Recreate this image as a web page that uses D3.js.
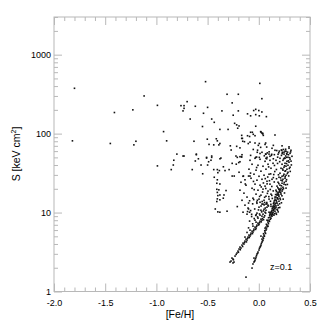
<!DOCTYPE html>
<html>
<head>
<meta charset="UTF-8" />
<title>S vs [Fe/H]</title>
<script src="https://d3js.org/d3.v7.min.js"></script>
<style>
  body { margin: 0; background: #fff; }
  svg { display: block; font-family: "Liberation Sans", Arial, sans-serif; }
  .axis line { stroke: #b8b8b8; }
  .axis text { fill: #000; font-size: 9px; }
</style>
</head>
<body>
<svg id="chart" width="327" height="327"></svg>
<script>
// tick labels
const xMajor = [-2, -1.5, -1, -0.5, 0, 0.5];
const xMajorLabels = ["-2.0", "-1.5", "-1.0", "-0.5", "0.0", "0.5"];
const yMajor = [1, 10, 100, 1000];
const yMajorLabels = ["1", "10", "100", "1000"];

// [Fe/H], S [keV cm^2]
const metalPoor = [
  [-1.80,375],[-1.82,81],[-1.41,185],[-1.45,75],[-1.23,200],[-1.22,72],[-1.20,80],[-1.12,300],
  [-0.99,228],[-0.99,39],[-0.93,106],[-0.90,81],[-0.83,46],[-0.835,40],[-0.855,35],[-0.80,55],[-0.74,52],
  [-0.52,455],[0.01,433],[-0.31,315],[-0.20,315],[0.03,277],[-0.26,245],[-0.70,254],[-0.76,226],
  [-0.73,226],[-0.73,209],[-0.74,194],[-0.62,222],[-0.50,215],[-0.36,194],[-0.20,194],[-0.54,181],
  [-0.25,171],[-0.11,178],[-0.03,203],[-0.05,196],[0.0,196],[0.03,188],[-0.08,168],[-0.03,174],
  [0.005,168],[0.074,164],[-0.67,153],[-0.46,153],[-0.435,139],[-0.55,123],[-0.236,135],[-0.216,129],
  [-0.193,125],[-0.206,117],[-0.38,113],[-0.30,113],[-0.03,124],[0.018,106],[0.038,101],[0.158,96],
  [-0.633,80],[-0.503,85],[-0.415,86],[-0.405,81],[-0.167,87],[-0.14,79],[-0.11,94],[-0.09,92],
  [-0.037,94],[-0.086,78],[0.005,75],[0.067,76],[0.018,67],[-0.486,73],[-0.44,72],[-0.39,72],
  [-0.38,75],[-0.278,70],[-0.216,69],[-0.184,66],[-0.27,62],[-0.054,63],[-0.015,58],[0.07,55],
  [0.083,57],[0.10,55],[0.175,61],[0.20,60],[0.22,62],[0.23,58],[0.246,55],[0.295,68],[0.227,70],
  [0.29,54],[0.25,49],[0.27,50],[-0.73,52],[-0.61,55],[-0.51,50],[-0.46,50],[-0.37,49],[-0.223,52],
  [-0.17,51],[-0.08,53],[-0.03,50],[0.005,50],[0.066,55],[0.08,50],[0.123,53],[-0.08,104],
  [-0.063,104],[0.021,105],[0.038,99],[-0.16,87]
];

const intermediate = [
  [-0.61,54],[-0.59,48],[-0.62,45],[-0.51,49],[-0.46,52],[-0.49,44],[-0.50,40],[-0.467,46],
  [-0.379,48],[-0.564,40],[-0.65,35],[-0.548,31],[-0.346,38],[-0.29,35],[-0.26,42],[-0.22,41],
  [-0.196,43],[-0.184,44],[-0.21,50],[-0.184,51],[-0.164,54],[-0.44,35],[-0.405,35],[-0.40,32],
  [-0.385,34],[-0.33,34],[-0.26,29],[-0.24,29],[-0.15,29],[-0.10,29],[-0.086,29],[-0.435,28],
  [-0.405,26],[-0.41,23.5],[-0.38,23],[-0.41,19.7],[-0.39,19.4],[-0.405,18],[-0.40,16.4],
  [-0.38,16.7],[-0.405,14.9],[-0.38,14.5],[-0.41,13.8],[-0.32,19],[-0.34,16.7],[-0.347,15.2],
  [-0.425,11.1],[-0.40,10.2],[-0.38,10.1],[-0.31,10.4],[-0.21,11.9],[-0.135,26],[-0.132,23],
  [-0.10,11.1],[-0.09,10.1],
  [-0.193,32.4],[-0.154,28.8],[-0.174,24.2],[-0.125,22.2],[-0.184,19.2],[-0.145,17.6],[-0.115,15.7],
  [-0.164,14.3],[-0.135,12.4],[-0.105,11.4],[-0.154,10.1],[-0.115,9.54],
  [-0.10,13.2],[-0.08,10.6],[-0.06,12.9],[-0.04,11.1],[-0.09,14.1],[-0.07,9.5],[-0.02,13.6],
  [-0.05,14.6],[-0.11,10.3],[-0.03,9.2]
];

const lowerSequence = [
  [-0.271,2.43],[-0.252,2.58],[-0.242,2.36],[-0.262,2.65],[-0.232,2.81],[-0.213,3.07],[-0.203,3.25],
  [-0.193,3.45],[-0.184,3.65],[-0.174,3.55],[-0.164,3.87],[-0.154,4.10],[-0.145,3.99],[-0.135,4.35],
  [-0.125,4.61],[-0.115,4.48],[-0.105,4.89],[-0.096,5.18],[-0.086,5.03],[-0.076,5.49],[-0.066,5.82],
  [-0.057,5.65],[-0.047,6.17],[-0.037,6.54],[-0.027,6.35],[-0.018,6.93],[-0.008,7.34],[0.002,7.13],
  [0.012,7.78],[0.021,8.25],[0.031,8.01],[0.031,9.00],[0.041,9.54],[0.051,8.74],[0.061,10.1],
  [0.070,10.7],[0.051,11.0],[0.080,11.7],[0.090,12.4],[0.070,12.8],[-0.281,2.36],[-0.252,2.30],
  [-0.135,4.89],[-0.086,5.99],[-0.057,6.73],[-0.027,7.56],[-0.008,8.49],[-0.037,8.01],[0.012,9.27],
  [-0.018,9.83],[0.021,10.7],[0.002,11.7],[0.041,12.8],[0.012,13.5],
  [-0.248,2.52],[-0.221,2.95],[-0.199,3.14],[-0.181,3.38],[-0.158,3.72],[-0.139,4.18],[-0.121,4.25],
  [-0.109,4.71],[-0.093,4.82],[-0.079,5.25],[-0.062,5.41],[-0.049,5.92],[-0.031,6.12],[-0.021,6.68],
  [-0.002,6.95],[0.008,7.45],[0.024,7.62],[0.036,8.41],[0.046,8.12],[0.058,9.12],[0.067,9.85],
  [0.028,10.2],[0.045,10.5],[0.063,11.4],[0.079,12.9],[0.057,13.4],[0.022,12.1],[-0.003,10.8],
  [0.007,9.6],[-0.012,8.8],
  [-0.06,7.2],[-0.045,8.4],[-0.07,8.9],[-0.10,6.4],[-0.115,5.6],[-0.09,7.8],[-0.025,9.4]
];

const upperSequence = [
  [-0.125,1.52],[-0.066,1.98],[-0.057,2.23],[-0.047,2.36],[-0.037,2.50],[-0.047,2.65],[-0.027,2.73],
  [-0.018,2.98],[-0.008,3.16],[0.002,3.35],[0.012,3.65],[0.021,3.87],[0.031,4.22],[0.031,4.61],
  [0.041,4.89],[0.051,5.18],[0.061,5.65],[0.070,5.99],[0.070,6.54],[0.080,6.93],[0.090,7.56],
  [0.100,8.01],[0.109,8.74],[0.109,9.54],[0.119,10.1],[0.129,10.7],[0.139,11.7],[0.148,12.4],
  [0.148,13.5],[0.158,14.8],[0.168,15.7],[0.178,17.1],[0.188,18.1],[0.197,19.8],
  [0.090,6.73],[0.061,6.35],[0.119,8.49],[0.080,8.01],[0.129,9.54],[0.100,10.1],[0.158,11.4],
  [0.119,12.0],[0.041,4.48],[0.021,5.03],
  [-0.041,2.42],[-0.031,2.61],[-0.022,2.85],[-0.011,3.05],[0.006,3.52],[0.017,3.74],[0.025,4.05],
  [0.036,4.36],[0.046,4.72],[0.055,5.02],[0.066,5.44],[0.075,6.21],[0.084,6.62],[0.094,7.22],
  [0.104,7.72],[0.113,8.23],[0.122,9.12],[0.133,9.83],[0.142,10.9],[0.152,11.9],[0.163,13.1],
  [0.171,14.2],[0.181,15.1],[0.192,16.7],[0.203,18.6],[0.212,19.4],[0.106,9.2],[0.095,8.6],
  [0.087,7.9],[0.074,7.1],[0.058,5.9],[0.046,5.4]
];

const richCore = [
  [0.295,65.2],[0.314,61.5],[0.266,59.7],[0.305,56.3],[0.275,54.7],[0.246,58.0],[0.324,51.6],
  [0.285,50.2],[0.256,48.7],[0.305,47.3],[0.236,45.9],[0.275,44.6],[0.295,43.4],[0.256,42.1],
  [0.227,40.9],[0.285,39.7],[0.266,38.6],[0.246,37.5],[0.305,37.5],[0.217,36.4],[0.275,35.4],
  [0.236,34.4],[0.256,33.4],[0.285,32.4],[0.207,31.5],[0.246,30.6],[0.266,29.7],[0.227,28.8],
  [0.197,28.0],[0.256,27.2],[0.236,26.4],[0.217,25.7],[0.266,24.9],[0.188,24.2],[0.227,23.5],
  [0.246,22.9],[0.207,22.2],[0.178,21.6],[0.236,20.9],[0.217,20.3],[0.197,19.8],[0.168,19.2],
  [0.227,18.7],[0.207,18.1],[0.188,17.6],[0.217,17.1],[0.178,16.6],[0.197,16.1],[0.158,15.7],
  [0.207,15.2],[0.188,14.8],[0.168,14.3],[0.197,13.9],[0.178,13.1],[0.158,12.8],[0.188,12.4],
  [0.139,12.0],[0.168,11.7],[0.148,11.4],[0.178,11.0],[0.158,10.4],[0.139,10.1],[0.168,9.83],
  [0.119,9.54],[0.148,9.27],[0.129,9.00],
  [-0.086,45.9],[-0.037,48.7],[0.012,47.3],[0.061,44.6],[0.109,45.9],[-0.066,40.9],[-0.008,39.7],
  [0.041,38.6],[0.090,40.9],[0.139,42.1],[-0.096,35.4],[-0.027,34.4],[0.021,33.4],[0.070,35.4],
  [0.119,36.4],[-0.047,30.6],[0.002,28.8],[0.051,29.7],[0.100,30.6],[-0.076,27.2],[-0.018,25.7],
  [0.031,26.4],[0.080,24.9],[0.129,26.4],[-0.037,22.9],[0.012,22.2],[0.061,21.6],[0.109,22.9],
  [-0.066,20.3],[-0.008,19.2],[0.041,19.8],[0.090,18.7],[-0.027,17.1],[0.021,16.6],[0.070,16.1],
  [0.119,17.1],[-0.057,15.2],[0.002,14.8],[0.051,14.3],[0.100,14.8],[-0.018,13.1],[0.031,12.8],
  [0.031,58.0],[0.109,51.6],[0.158,61.5],[0.188,54.7],[0.129,65.2],[0.070,48.7],[0.207,48.7],
  [0.168,45.9],[-0.167,95],[-0.054,98],[0.028,102],[0.044,95],[-0.157,80],[-0.103,74.8],
  [-0.037,76],[-0.005,71],[0.061,73],[0.077,67.6],[0.142,71],[0.224,61.5],[0.24,63],[0.256,60],
  [0.272,56],[0.126,54.7],[0.012,56],[-0.021,50.5],[-0.167,50.5],[0.077,48],[0.142,48],
  [0.281,58.3],[0.262,52.1],[0.301,49.5],[0.243,47.8],[0.289,45.2],[0.271,41.7],[0.252,39.1],
  [0.298,36.2],[0.233,35.6],[0.262,33.8],[0.279,31.2],[0.241,29.3],[0.258,28.4],[0.213,27.5],
  [0.271,26.1],[0.229,25.2],[0.249,24.1],[0.196,23.3],[0.262,22.5],[0.221,21.8],[0.241,20.1],
  [0.186,20.6],[0.203,19.1],[0.232,19.5],[0.172,18.4],[0.214,17.8],[0.193,16.9],[0.226,16.3],
  [0.164,16.9],[0.183,15.4],[0.211,14.6],[0.152,14.1],[0.175,13.6],[0.203,12.9],[0.143,13.0],
  [0.167,12.2],[0.192,11.5],[0.131,11.3],[0.157,11.1],[0.183,10.7],[0.144,10.6],[0.124,10.3],
  [0.152,9.7],[0.111,9.9],[0.136,9.4],
  [0.116,30.9],[0.087,28.2],[0.142,27.7],[0.063,26.9],[0.104,25.3],[0.151,24.4],[0.045,23.7],
  [0.081,23.1],[0.127,21.4],[0.024,21.1],[0.068,20.2],[0.112,19.6],[0.141,18.8],[0.037,18.2],
  [0.084,17.5],[0.127,16.5],[0.008,16.0],[0.057,15.6],[0.098,15.9],[0.132,15.1],[-0.014,14.3],
  [0.033,13.8],[0.078,13.4],[0.114,13.9],[0.052,12.5],[0.094,12.1],[0.118,12.7],[-0.045,19.5],
  [-0.052,24.8],[-0.081,31.6],[-0.021,37.2],[0.096,37.9],[0.153,39.5],[0.183,41.9],[0.204,44.1],
  [0.172,35.1],[0.156,33.1],[0.192,30.1],[0.173,26.8],[0.146,30.3],
  [0.228,55.7],[0.262,63.4],[0.311,58.7],[0.195,57.2],[0.152,54.1],[0.101,58.8],[0.054,52.3],
  [-0.012,61.7],[0.184,50.3],[0.221,52.9],[0.315,44.8],[0.318,40.1],[0.307,33.2],[0.292,29.1],
  [0.279,22.7],[0.266,20.4],[0.251,17.7],[0.238,14.8],[0.221,13.3],[0.205,11.6],[0.189,10.2],
  [0.172,9.5]
];

const svg = d3.select("#chart");
const plotLeft = 54, plotRight = 310, plotTop = 17, plotBottom = 291.5;

const x = d3.scaleLinear().domain([-2, 0.5]).range([plotLeft, plotRight]);
const y = d3.scaleLog().domain([1, 3000]).range([plotBottom, plotTop]);

const xMinor = d3.range(-2, 0.501, 0.1).filter(v => !xMajor.some(m => Math.abs(m - v) < 1e-6));
const yMinor = [];
[1, 10, 100, 1000].forEach(d => d3.range(2, 10).forEach(k => { if (d * k <= 3000) yMinor.push(d * k); }));

function fmt(vals, labels) {
  return v => labels[vals.findIndex(m => Math.abs(m - v) < 1e-9)];
}

// bottom
svg.append("g").attr("class", "axis").attr("transform", `translate(0,${plotBottom})`)
  .call(d3.axisBottom(x).tickValues(xMajor).tickSize(-8).tickPadding(8.5).tickFormat(fmt(xMajor, xMajorLabels)));
svg.append("g").attr("class", "axis").attr("transform", `translate(0,${plotBottom})`)
  .call(d3.axisBottom(x).tickValues(xMinor).tickSize(-4).tickFormat(""));
// top
svg.append("g").attr("class", "axis").attr("transform", `translate(0,${plotTop})`)
  .call(d3.axisTop(x).tickValues(xMajor).tickSize(-8).tickFormat(""));
svg.append("g").attr("class", "axis").attr("transform", `translate(0,${plotTop})`)
  .call(d3.axisTop(x).tickValues(xMinor).tickSize(-4).tickFormat(""));
// left
svg.append("g").attr("class", "axis").attr("transform", `translate(${plotLeft},0)`)
  .call(d3.axisLeft(y).tickValues(yMajor).tickSize(-8).tickPadding(3).tickFormat(fmt(yMajor, yMajorLabels)));
svg.append("g").attr("class", "axis").attr("transform", `translate(${plotLeft},0)`)
  .call(d3.axisLeft(y).tickValues(yMinor).tickSize(-4).tickFormat(""));
// right
svg.append("g").attr("class", "axis").attr("transform", `translate(${plotRight},0)`)
  .call(d3.axisRight(y).tickValues(yMajor).tickSize(-8).tickFormat(""));
svg.append("g").attr("class", "axis").attr("transform", `translate(${plotRight},0)`)
  .call(d3.axisRight(y).tickValues(yMinor).tickSize(-4).tickFormat(""));

svg.selectAll(".axis .domain").remove();
svg.append("rect")
  .attr("x", plotLeft).attr("y", plotTop)
  .attr("width", plotRight - plotLeft).attr("height", plotBottom - plotTop)
  .attr("fill", "none").attr("stroke", "#b8b8b8").attr("stroke-width", 1);

// points
const allPoints = [].concat(metalPoor, intermediate, lowerSequence, upperSequence, richCore);
svg.append("g").selectAll("rect")
  .data(allPoints)
  .join("rect")
  .attr("x", d => x(d[0]) - 0.8)
  .attr("y", d => y(d[1]) - 0.8)
  .attr("width", 1.6)
  .attr("height", 1.6)
  .attr("fill", "#111");

// labels
svg.append("text")
  .attr("x", 180).attr("y", 318)
  .attr("text-anchor", "middle")
  .attr("font-size", 10.5)
  .text("[Fe/H]");

const yl = svg.append("text")
  .attr("transform", "translate(20,154) rotate(-90)")
  .attr("text-anchor", "middle")
  .attr("font-size", 10.5);
yl.append("tspan").text("S [keV cm");
yl.append("tspan").attr("font-size", 7).attr("dy", -4).text("2");
yl.append("tspan").attr("dy", 4).text("]");

svg.append("text")
  .attr("x", 270).attr("y", 270)
  .attr("font-size", 9)
  .text("z=0.1");
</script>
</body>
</html>
